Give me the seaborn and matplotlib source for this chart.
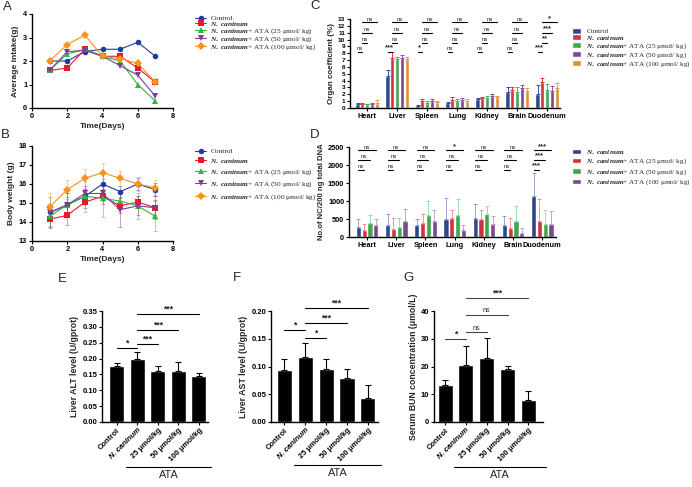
import numpy as np
import pandas as pd
import seaborn as sns
import matplotlib.pyplot as plt
from matplotlib import transforms

sns.set_style('ticks')
plt.rcParams['font.family'] = ['Liberation Sans', 'DejaVu Sans']
plt.rcParams['font.weight'] = 'bold'
plt.rcParams['axes.labelweight'] = 'bold'
plt.rcParams['mathtext.fontset'] = 'custom'
plt.rcParams['mathtext.it'] = 'Liberation Serif:italic'
plt.rcParams['mathtext.rm'] = 'Liberation Serif'

# ---------------- data ----------------
days = [1, 2, 3, 4, 5, 6, 7]
groups = ['Control', 'N. caninum', 'ATA 25', 'ATA 50', 'ATA 100']
colors = ['#1f3d9e', '#e8192c', '#33b540', '#7b3f98', '#f7931e']
leg_labels = ['Control', r'$\mathit{N.\ caninum}$',
              r'$\mathit{N.\ caninum}$+ ATA (25 μmol/ kg)',
              r'$\mathit{N.\ caninum}$+ ATA (50 μmol/ kg)',
              r'$\mathit{N.\ caninum}$+ ATA (100 μmol/ kg)']

intake_ctrl = [2.0, 2.0, 2.4, 2.5, 2.5, 2.8, 2.2]
intake_nc = [1.6, 1.7, 2.5, 2.2, 2.2, 1.7, 1.1]
intake_25 = [1.6, 2.3, 2.5, 2.2, 2.0, 1.0, 0.3]
intake_50 = [1.6, 2.4, 2.45, 2.2, 1.8, 1.4, 0.5]
intake_100 = [2.0, 2.7, 3.1, 2.2, 2.1, 1.9, 1.1]

wt_ctrl = [14.5, 14.9, 15.35, 16.0, 15.6, 16.0, 15.7]
wt_nc = [14.15, 14.35, 15.05, 15.35, 14.85, 15.05, 14.75]
wt_25 = [14.3, 14.9, 15.35, 15.25, 15.1, 14.85, 14.3]
wt_50 = [14.5, 14.9, 15.5, 15.5, 14.65, 14.85, 14.75]
wt_100 = [14.8, 15.7, 16.3, 16.6, 16.3, 16.0, 15.8]
wt_sd_ctrl = [0.4, 0.6, 0.4, 0.5, 0.3, 0.3, 0.35]
wt_sd_nc = [0.4, 0.5, 0.3, 0.4, 0.4, 0.3, 0.4]
wt_sd_25 = [0.5, 0.4, 0.8, 1.0, 0.4, 0.7, 0.8]
wt_sd_50 = [0.8, 0.6, 0.4, 0.4, 0.9, 0.5, 0.6]
wt_sd_100 = [0.7, 0.5, 0.5, 0.5, 0.4, 0.35, 0.4]

organs = ['Heart', 'Liver', 'Spleen', 'Lung', 'Kidney', 'Brain', 'Duodenum']
oc_ctrl = [0.6, 4.7, 0.35, 0.8, 1.3, 2.3, 2.0]
oc_nc = [0.6, 7.3, 1.0, 1.2, 1.45, 2.7, 3.75]
oc_25 = [0.55, 7.1, 0.8, 1.0, 1.5, 2.3, 2.7]
oc_50 = [0.6, 7.3, 1.05, 1.1, 1.7, 2.9, 2.5]
oc_100 = [0.8, 7.1, 0.85, 1.05, 1.6, 2.5, 2.9]
oc_sd_ctrl = [0.2, 0.9, 0.15, 0.1, 0.2, 0.7, 1.35]
oc_sd_nc = [0.1, 0.9, 0.3, 0.4, 0.2, 0.4, 0.65]
oc_sd_25 = [0.1, 0.3, 0.2, 0.3, 0.3, 0.7, 0.8]
oc_sd_50 = [0.2, 0.5, 0.3, 0.3, 0.3, 0.45, 0.7]
oc_sd_100 = [0.4, 0.4, 0.15, 0.2, 0.1, 0.4, 0.75]
sig_c = {'Heart': ['ns', 'ns', 'ns', 'ns'], 'Liver': ['***', 'ns', 'ns', 'ns'],
         'Spleen': ['*', 'ns', 'ns', 'ns'], 'Lung': ['ns', 'ns', 'ns', 'ns'],
         'Kidney': ['ns', 'ns', 'ns', 'ns'], 'Brain': ['ns', 'ns', 'ns', 'ns'],
         'Duodenum': ['***', '**', '***', '*']}

dna_nc = [280, 327, 345, 513, 522, 345, 1138]
dna_25 = [205, 215, 392, 541, 513, 261, 448]
dna_50 = [392, 280, 625, 625, 634, 448, 373]
dna_100 = [327, 438, 438, 187, 355, 121, 373]
dna_sd_nc = [230, 307, 168, 560, 392, 233, 653]
dna_sd_25 = [170, 300, 260, 205, 233, 280, 606]
dna_sd_50 = [233, 260, 383, 420, 224, 410, 373]
dna_sd_100 = [160, 327, 308, 140, 223, 131, 345]
sig_d = {'Heart': ['ns', 'ns', 'ns'], 'Liver': ['ns', 'ns', 'ns'],
         'Spleen': ['ns', 'ns', 'ns'], 'Lung': ['ns', 'ns', '*'],
         'Kidney': ['ns', 'ns', 'ns'], 'Brain': ['ns', 'ns', 'ns'],
         'Duodenum': ['***', '***', '***']}

dose_labels = ['Control', 'N. caninum', '25 μmol/kg', '50 μmol/kg', '100 μmol/kg']
alt_mean = [0.177, 0.200, 0.162, 0.160, 0.145]
alt_sd = [0.010, 0.021, 0.016, 0.028, 0.011]
ast_mean = [0.094, 0.117, 0.096, 0.080, 0.044]
ast_sd = [0.020, 0.026, 0.018, 0.016, 0.023]
bun_mean = [13.2, 20.4, 23.0, 19.2, 7.8]
bun_sd = [2.0, 7.0, 7.2, 1.0, 3.2]
sig_e = [(0, 1, 0.234, '*'), (1, 2, 0.245, '***'), (1, 3, 0.291, '***'), (1, 4, 0.342, '***')]
sig_f = [(0, 1, 0.165, '*'), (1, 2, 0.152, '*'), (1, 3, 0.179, '***'), (1, 4, 0.205, '***')]
sig_g = [(0, 1, 29.8, '*'), (1, 2, 32.4, 'ns'), (1, 3, 38.7, 'ns'), (1, 4, 44.7, '***')]

# ---------------- figure ----------------
W, H = 692, 487
fig = plt.figure(figsize=(6.92, 4.87), dpi=100)


def axbox(x0, y0, x1, y1):
    return fig.add_axes([x0 / W, 1 - y1 / H, (x1 - x0) / W, (y1 - y0) / H])


def style(ax, lab=5.3):
    sns.despine(ax=ax)
    for s in ['left', 'bottom']:
        ax.spines[s].set_linewidth(1.0)
        ax.spines[s].set_color('black')
    ax.tick_params(length=2.5, width=0.8, labelsize=lab, pad=1, colors='black')


def sig(ax, x1, x2, y, txt, color='black', fs=5.5):
    ax.plot([x1, x2], [y, y], color=color, lw=0.8, clip_on=False)
    ns = txt == 'ns'
    ax.annotate(txt, ((x1 + x2) / 2, y), xytext=(0, 0.3), textcoords='offset points',
                ha='center', va='bottom', fontsize=fs - 1.2 if ns else fs,
                fontweight='normal' if ns else 'bold', annotation_clip=False)


def letter(x, y, s):
    fig.text(x / W, 1 - y / H, s, fontsize=9.5, fontweight='normal', ha='center', va='center')


def leg_kw(size):
    return dict(frameon=False, loc='upper left', borderaxespad=0, borderpad=0,
                prop={'family': 'Liberation Serif', 'size': size, 'weight': 'normal'})


markers = ['o', 's', '^', 'v', 'D']

# A: intake
axA = axbox(32, 14, 173, 108)
dfA = pd.DataFrame({'day': days * 5,
                    'val': intake_ctrl + intake_nc + intake_25 + intake_50 + intake_100,
                    'group': np.repeat(groups, 7)})
sns.lineplot(data=dfA, x='day', y='val', hue='group', style='group', hue_order=groups,
             style_order=groups, markers=markers, dashes=False, palette=colors,
             markersize=4, linewidth=0.8, markeredgewidth=0, legend=False, ax=axA)
axA.set_xlim(0, 8)
axA.set_ylim(0, 4)
axA.set_xticks([0, 2, 4, 6, 8])
axA.set_yticks([0, 1, 2, 3, 4])
axA.set_xlabel('Time(Days)', fontsize=6, labelpad=2)
axA.set_ylabel('Average intake(g)', fontsize=6, labelpad=3)
style(axA)
fig.legend(axA.get_lines()[:5], leg_labels, bbox_to_anchor=(195 / W, 1 - 15 / H),
           labelspacing=-0.2, handlelength=1.5, handletextpad=0.6, **leg_kw(5.3))
letter(7, 7, 'A')

# B: body weight
axB = axbox(32, 146, 173, 241)
wts = [wt_ctrl, wt_nc, wt_25, wt_50, wt_100]
wsd = [wt_sd_ctrl, wt_sd_nc, wt_sd_25, wt_sd_50, wt_sd_100]
dfB = pd.DataFrame({'day': days * 5, 'val': sum(wts, []), 'group': np.repeat(groups, 7)})
sns.lineplot(data=dfB, x='day', y='val', hue='group', style='group', hue_order=groups,
             style_order=groups, markers=markers, dashes=False, palette=colors,
             markersize=4, linewidth=0.8, markeredgewidth=0, legend=False, ax=axB)
b_lines = list(axB.get_lines())[:5]
for m, s, c in zip(wts, wsd, colors):
    axB.errorbar(days, m, yerr=s, fmt='none', ecolor=c, alpha=0.45, capsize=1.5,
                 elinewidth=0.7, capthick=0.7, zorder=1)
axB.set_xlim(0, 8)
axB.set_ylim(13, 18)
axB.set_xticks([0, 2, 4, 6, 8])
axB.set_yticks([13, 14, 15, 16, 17, 18])
axB.set_xlabel('Time(Days)', fontsize=6, labelpad=2)
axB.set_ylabel('Body weight (g)', fontsize=6, labelpad=3)
style(axB)
fig.legend(b_lines, leg_labels, bbox_to_anchor=(195 / W, 1 - 148 / H),
           labelspacing=0.35, handlelength=1.5, handletextpad=0.6, **leg_kw(5.3))
letter(5, 135, 'B')


def grouped(ax, means, sds, hue_names, pal, err_alpha):
    df = pd.DataFrame({'organ': organs * len(hue_names), 'val': sum(means, []),
                       'group': np.repeat(hue_names, len(organs))})
    sns.barplot(data=df, x='organ', y='val', hue='group', order=organs,
                hue_order=hue_names, palette=pal, errorbar=None, gap=0.12,
                legend=False, ax=ax)
    bars = list(ax.containers)
    centers = []
    for hi, cont in enumerate(bars):
        xs = [b.get_x() + b.get_width() / 2 for b in cont]
        centers.append(xs)
        ax.errorbar(xs, means[hi], yerr=[np.zeros(len(organs)), sds[hi]], fmt='none',
                    ecolor=pal[hi], alpha=err_alpha, capsize=1.2, elinewidth=0.7,
                    capthick=0.7)
    return centers, bars


# C: organ coefficient
axC = axbox(350, 19, 560, 108)
cC, barsC = grouped(axC, [oc_ctrl, oc_nc, oc_25, oc_50, oc_100],
                    [oc_sd_ctrl, oc_sd_nc, oc_sd_25, oc_sd_50, oc_sd_100], groups, colors, 0.9)
levels_c = [8.2, 9.55, 11.0, 12.5]
pairs_c = [(0, 1), (1, 2), (1, 3), (1, 4)]
for oi, org in enumerate(organs):
    for (a, b), y, t in zip(pairs_c, levels_c, sig_c[org]):
        sig(axC, cC[a][oi], cC[b][oi], y, t)
axC.set_xlim(-0.57, 6.43)
axC.set_ylim(0, 13)
axC.set_yticks(range(14))
axC.set_xlabel('')
axC.set_ylabel('Organ coefficient (%)', fontsize=5.8, labelpad=2)
style(axC)
axC.tick_params(axis='y', labelsize=4.6)
fig.legend(barsC, leg_labels, bbox_to_anchor=(572 / W, 1 - 28 / H),
           labelspacing=-0.08, handlelength=1.3, handleheight=0.8, handletextpad=0.7,
           **leg_kw(5.2))
letter(315, 6, 'C')

# D: parasite DNA
axD = axbox(349, 147, 556, 237)
cD, barsD = grouped(axD, [dna_nc, dna_25, dna_50, dna_100],
                    [dna_sd_nc, dna_sd_25, dna_sd_50, dna_sd_100], groups[1:], colors[:4], 0.45)
levels_d = [1865, 2145, 2405]
for oi, org in enumerate(organs):
    for k, (y, t) in enumerate(zip(levels_d, sig_d[org])):
        sig(axD, cD[0][oi], cD[k + 1][oi], y, t)
axD.set_xlim(-0.62, 6.47)
axD.set_ylim(0, 2500)
axD.set_yticks(range(0, 2501, 500))
axD.set_xlabel('')
axD.set_ylabel('No.of NC/200 ng total DNA', fontsize=5.6, labelpad=2)
style(axD)
fig.legend(barsD, leg_labels[1:], bbox_to_anchor=(572 / W, 1 - 148 / H),
           labelspacing=0.1, handlelength=1.3, handleheight=0.8, handletextpad=0.7,
           **leg_kw(5.2))
letter(315, 135, 'D')


def biochem(box, mean, sd, sigs, ylim, yticks, ylabel, xlim, line_y, sig_color='black'):
    ax = axbox(*box)
    sns.barplot(x=dose_labels, y=mean, color='black', width=0.72, errorbar=None, ax=ax)
    xs = [p.get_x() + p.get_width() / 2 for p in ax.patches]
    ax.errorbar(xs, mean, yerr=[np.zeros(5), sd], fmt='none', ecolor='black',
                capsize=2.2, elinewidth=0.8, capthick=0.8)
    for a, b, y, t in sigs:
        sig(ax, xs[a], xs[b], y, t, sig_color, fs=6.3)
    ax.set_xlim(*xlim)
    ax.set_ylim(*ylim)
    ax.set_yticks(yticks)
    ax.set_ylabel(ylabel, fontsize=6.3, labelpad=2)
    style(ax, 5.5)
    ax.set_xticks(xs)
    ax.set_xticklabels(dose_labels, rotation=45, ha='right', rotation_mode='anchor')
    ax.get_xticklabels()[1].set_fontstyle('italic')
    tr = transforms.blended_transform_factory(ax.transData, ax.transAxes)
    h = box[3] - box[1]
    yl = -(line_y - box[3]) / h
    ax.plot([0.45, xlim[1] + 0.15], [yl, yl], color='black', lw=0.8, transform=tr,
            clip_on=False)
    ax.text((0.45 + xlim[1] + 0.15) / 2, yl - 2.5 / h, 'ATA', transform=tr, ha='center',
            va='top', fontsize=7.8, fontweight='normal')
    return ax


axE = biochem((102, 311, 208, 422), alt_mean, alt_sd, sig_e, (0, 0.35),
              np.arange(0, 0.351, 0.05), 'Liver ALT level (U/gprot)', (-0.72, 4.45), 467)
letter(62, 279, 'E')
axF = biochem((271, 311, 378, 422), ast_mean, ast_sd, sig_f, (0, 0.20),
              np.arange(0, 0.201, 0.05), 'Liver AST level (U/gprot)', (-0.63, 4.48), 465)
letter(237, 278, 'F')
axG = biochem((434, 311, 543, 422), bun_mean, bun_sd, sig_g, (0, 40), range(0, 41, 10),
              'Serum BUN concentration (μmol/L)', (-0.53, 4.7), 467, '#444444')
letter(409, 278, 'G')

axE.yaxis.set_major_formatter(plt.FormatStrFormatter('%.2f'))
axF.yaxis.set_major_formatter(plt.FormatStrFormatter('%.2f'))
for ax in fig.axes:
    for lab in ax.get_xticklabels() + ax.get_yticklabels():
        lab.set_fontweight('bold')

fig.savefig('out.png', dpi=100)
